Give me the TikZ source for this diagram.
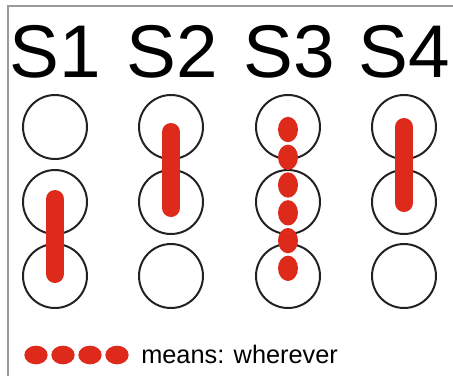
\documentclass[tikz,border=0pt]{standalone}
\usepackage{fontspec}
\usetikzlibrary{shapes.geometric}
\setmainfont{Liberation Sans}
\definecolor{barred}{HTML}{DD2A1B}
\definecolor{frame}{HTML}{999999}
\definecolor{ring}{HTML}{222222}
\begin{document}
\begin{tikzpicture}[x=0.75pt,y=-0.75pt,
  ringc/.style={draw=ring,line width=1.5pt,circle,minimum size=48pt,inner sep=0pt},
  bar/.style={draw=barred,line width=13.5pt,line cap=round},
  dotv/.style={fill=barred,draw=none,ellipse,minimum width=15pt,minimum height=19pt,inner sep=0pt,outer sep=0pt},
  doth/.style={fill=barred,draw=none,ellipse,minimum width=17.5pt,minimum height=14pt,inner sep=0pt,outer sep=0pt},
  title/.style={anchor=base,inner sep=0pt,font=\fontsize{56}{60}\selectfont}]
\useasboundingbox (0,0) rectangle (453,376);
\draw[frame,line width=1.5pt] (8,376) -- (8,6) -- (453,6);
\foreach \i/\x in {1/55,2/172,3/289,4/404}{
  \node[title] (t\i) at (\x,77) {S\i};
}
\foreach \i/\x in {1/55,2/171,3/288,4/404}{
  \node[ringc] (c\i a) at (\x,127) {};
  \node[ringc] (c\i b) at (\x,202) {};
  \node[ringc] (c\i c) at (\x,276) {};
}
\coordinate (b1s) at (55,199); \coordinate (b1e) at (55,274);
\coordinate (b2s) at (171,132); \coordinate (b2e) at (171,208);
\coordinate (b4s) at (404,127); \coordinate (b4e) at (404,203);
\draw[bar] (b1s) -- (b1e);
\draw[bar] (b2s) -- (b2e);
\draw[bar] (b4s) -- (b4e);
\foreach \k/\y in {1/129.5,2/157.3,3/185,4/212.8,5/240.6,6/268.3}{
  \node[dotv] (d\k) at (288,\y) {};
}
\foreach \k/\x in {1/36,2/63,3/90,4/117}{
  \node[doth] (l\k) at (\x,355) {};
}
\node[anchor=base west,inner sep=0pt,font=\fontsize{19}{20}\selectfont] (leg) at (141,363) {means: wherever};
\end{tikzpicture}
\end{document}
